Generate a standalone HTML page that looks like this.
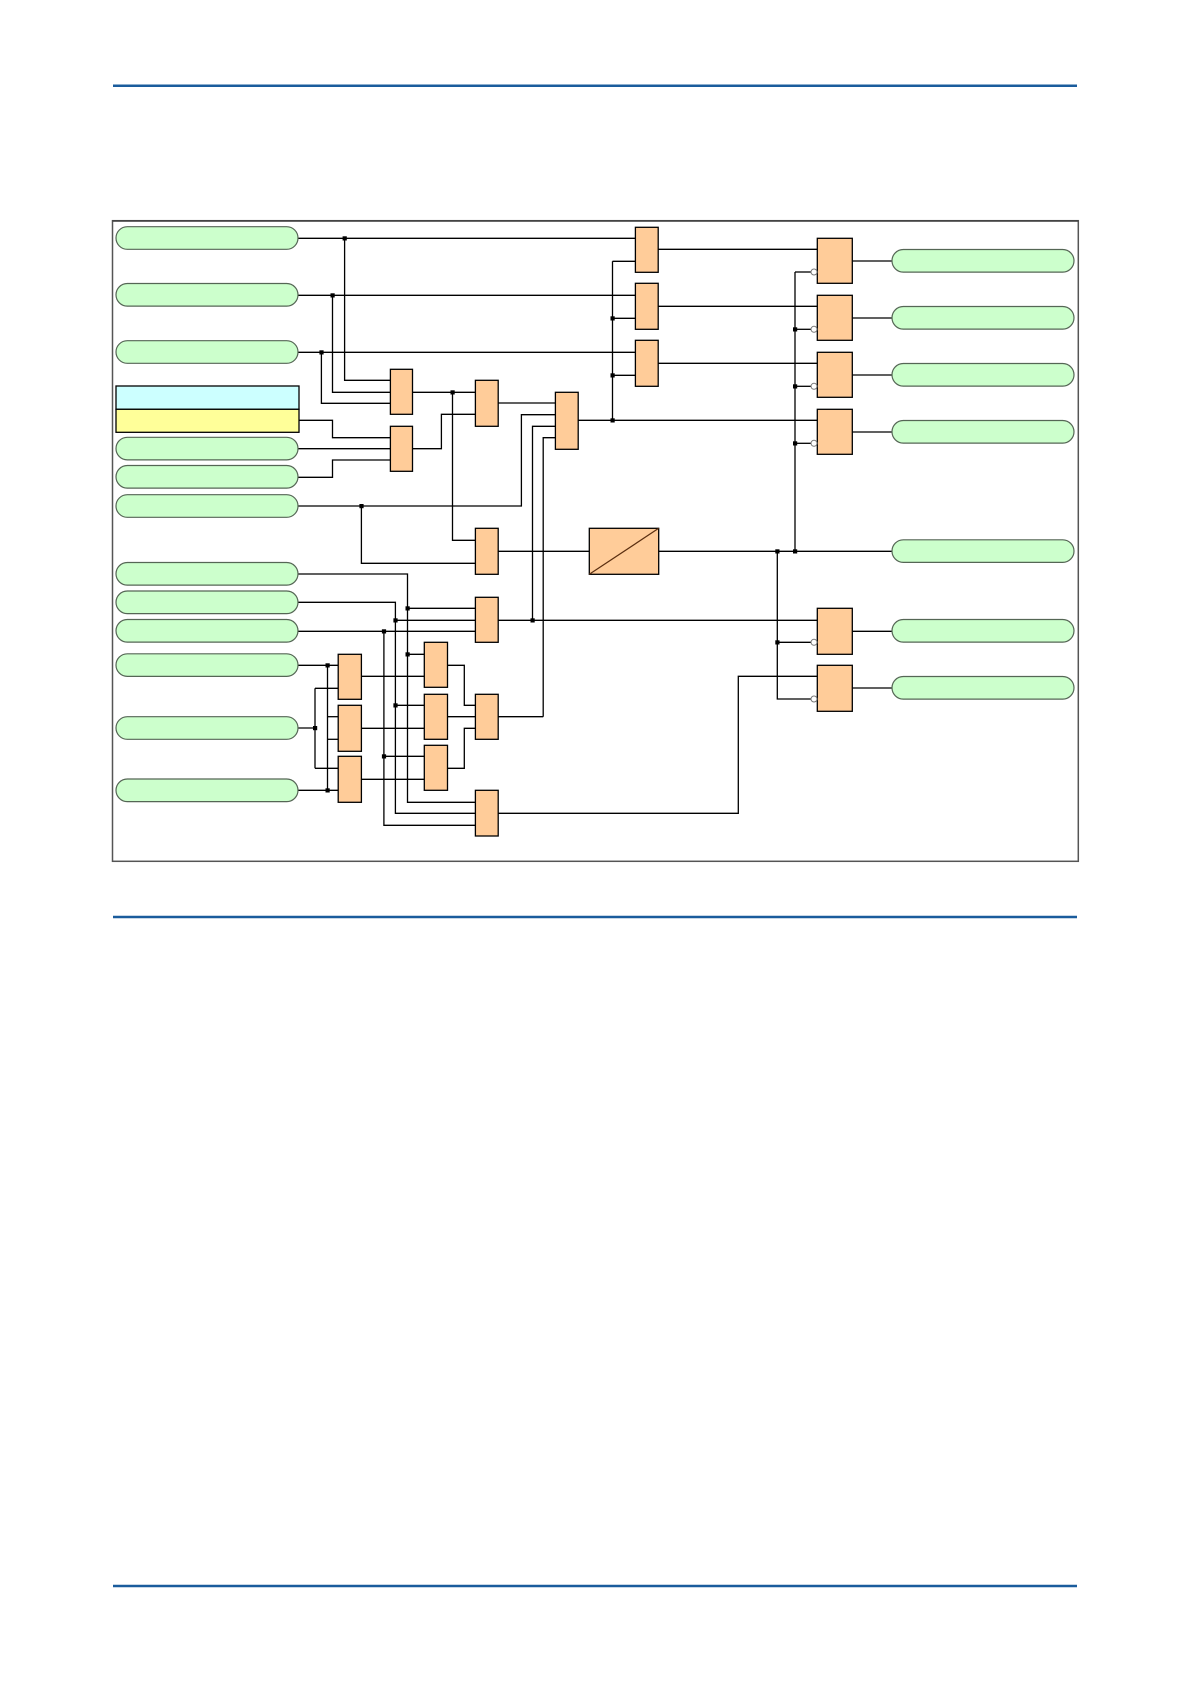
<!DOCTYPE html>
<html><head><meta charset="utf-8"><style>
html,body{margin:0;padding:0;background:#fff;}
svg{display:block;}
</style></head><body>
<svg width="1191" height="1684" viewBox="0 0 1191 1684" xmlns="http://www.w3.org/2000/svg">
<rect width="1191" height="1684" fill="#fff"/>
<g stroke="#1a5c9c" stroke-width="2.5">
<line x1="113" y1="85.7" x2="1077" y2="85.7"/>
<line x1="113" y1="917" x2="1077" y2="917"/>
<line x1="113" y1="1586" x2="1077" y2="1586"/>
</g>
<rect x="112.5" y="220.7" width="965.8" height="640.6" fill="none" stroke="#555" stroke-width="1.5"/>
<rect x="112.5" y="220" width="965.8" height="1.8" fill="#444"/>

<!-- wires -->
<g fill="none" stroke="#000" stroke-width="1.3">
<!-- top inputs -->
<path d="M298 238.3H635.4"/>
<path d="M298 295.3H635.4"/>
<path d="M298 352.3H635.4"/>
<path d="M344.6 238.3V380.3H390.4"/>
<path d="M332.5 295.3V392.3H390.4"/>
<path d="M321.4 352.3V403.3H390.4"/>
<path d="M299 420.3H332.5V437.7H390.4"/>
<path d="M298 448.7H390.4"/>
<path d="M298 477.3H332.5V460H390.4"/>
<path d="M412.5 392.3H475.4"/>
<path d="M452.5 392.3V540.3H475.4"/>
<path d="M412.5 448.7H441.4V414.3H475.4"/>
<path d="M498.2 403H555.4"/>
<path d="M298 506H521.4V414.7H555.4"/>
<path d="M361.4 506V563.3H475.4"/>
<path d="M532.5 620.3V426.3H555.4"/>
<path d="M543.2 716.7V437.7H555.4"/>
<path d="M578.2 420.3H817.3"/>
<path d="M612.5 261.3H635.4"/>
<path d="M612.5 261.3V420.3"/>
<path d="M612.5 318.3H635.4"/>
<path d="M612.5 375.3H635.4"/>
<path d="M658.2 249.3H817.3"/>
<path d="M658.2 306.3H817.3"/>
<path d="M658.2 363.3H817.3"/>
<path d="M795 272H811"/>
<path d="M795 272V551.3"/>
<path d="M795 329.3H811"/>
<path d="M795 386.3H811"/>
<path d="M795 443.3H811"/>
<path d="M852.3 261H892"/>
<path d="M852.3 318H892"/>
<path d="M852.3 375H892"/>
<path d="M852.3 432H892"/>
<path d="M498.2 551.3H589.3"/>
<path d="M658.7 551.3H892"/>
<path d="M777.3 551.3V699H811"/>
<path d="M777.3 642.3H811"/>
<path d="M498.2 620.3H817.3"/>
<path d="M852.3 631.3H892"/>
<path d="M852.3 688H892"/>
<path d="M498.2 813.3H738.3V676.3H817.3"/>
<!-- lower inputs -->
<path d="M298 574H407.5V802.3H475.4"/>
<path d="M298 602.3H395.4V813.3H475.4"/>
<path d="M298 631.3H475.4"/>
<path d="M383.9 631.3V825.3H475.4"/>
<path d="M407.5 608.3H475.4"/>
<path d="M395.4 620.3H475.4"/>
<path d="M298 665.3H338.2"/>
<path d="M298 728H315"/>
<path d="M298 790.3H338.2"/>
<path d="M327.5 665.3V790.3"/>
<path d="M327.5 716.7H338.2"/>
<path d="M327.5 739.3H338.2"/>
<path d="M315 688.3V768.3"/>
<path d="M315 688.3H338.2"/>
<path d="M315 768.3H338.2"/>
<path d="M361.4 676.3H424.3"/>
<path d="M361.4 728.3H424.3"/>
<path d="M361.4 779.3H424.3"/>
<path d="M407.5 654.3H424.3"/>
<path d="M395.4 705.3H424.3"/>
<path d="M383.9 756.3H424.3"/>
<path d="M447.5 665.3H464.3V705.3H475.4"/>
<path d="M447.5 716.7H475.4"/>
<path d="M447.5 768.3H464.3V728.3H475.4"/>
<path d="M498.2 716.7H543.2"/>
</g>

<!-- pills -->
<g fill="#ccffcc" stroke="#556655" stroke-width="1.2">
<rect x="116" y="226.7" width="182" height="22.6" rx="11.3"/>
<rect x="116" y="283.5" width="182" height="22.6" rx="11.3"/>
<rect x="116" y="340.7" width="182" height="22.6" rx="11.3"/>
<rect x="116" y="437.3" width="182" height="22.6" rx="11.3"/>
<rect x="116" y="465.5" width="182" height="22.6" rx="11.3"/>
<rect x="116" y="494.7" width="182" height="22.6" rx="11.3"/>
<rect x="116" y="562.5" width="182" height="22.6" rx="11.3"/>
<rect x="116" y="591" width="182" height="22.6" rx="11.3"/>
<rect x="116" y="619.5" width="182" height="22.6" rx="11.3"/>
<rect x="116" y="653.8" width="182" height="22.6" rx="11.3"/>
<rect x="116" y="716.7" width="182" height="22.6" rx="11.3"/>
<rect x="116" y="779" width="182" height="22.6" rx="11.3"/>
<rect x="892" y="249.5" width="182" height="22.6" rx="11.3"/>
<rect x="892" y="306.5" width="182" height="22.6" rx="11.3"/>
<rect x="892" y="363.5" width="182" height="22.6" rx="11.3"/>
<rect x="892" y="420.5" width="182" height="22.6" rx="11.3"/>
<rect x="892" y="539.8" width="182" height="22.6" rx="11.3"/>
<rect x="892" y="619.5" width="182" height="22.6" rx="11.3"/>
<rect x="892" y="676.5" width="182" height="22.6" rx="11.3"/>
</g>
<rect x="116" y="386" width="183" height="23.3" fill="#ccffff" stroke="#000" stroke-width="1.3"/>
<rect x="116" y="409.3" width="183" height="23" fill="#ffff99" stroke="#000" stroke-width="1.3"/>

<!-- gates -->
<g fill="#ffcc99" stroke="#000" stroke-width="1.3">
<rect x="390.4" y="369.3" width="22.1" height="45"/>
<rect x="390.4" y="426.3" width="22.1" height="45"/>
<rect x="475.4" y="380.3" width="22.8" height="46"/>
<rect x="555.4" y="392.3" width="22.8" height="57"/>
<rect x="635.4" y="227.3" width="22.8" height="45"/>
<rect x="635.4" y="283.3" width="22.8" height="46"/>
<rect x="635.4" y="340.3" width="22.8" height="46"/>
<rect x="817.3" y="238.3" width="35" height="45"/>
<rect x="817.3" y="295.3" width="35" height="45"/>
<rect x="817.3" y="352.3" width="35" height="45"/>
<rect x="817.3" y="409.3" width="35" height="45"/>
<rect x="817.3" y="608.3" width="35" height="46"/>
<rect x="817.3" y="665.3" width="35" height="46"/>
<rect x="475.4" y="528.3" width="22.8" height="46"/>
<rect x="589.3" y="528.3" width="69.4" height="46"/>
<rect x="475.4" y="597.3" width="22.8" height="45"/>
<rect x="338.2" y="654.3" width="23.2" height="45"/>
<rect x="338.2" y="705.3" width="23.2" height="46"/>
<rect x="338.2" y="756.3" width="23.2" height="46"/>
<rect x="424.3" y="642.3" width="23.2" height="45"/>
<rect x="424.3" y="694.3" width="23.2" height="45"/>
<rect x="424.3" y="745.3" width="23.2" height="45"/>
<rect x="475.4" y="694.3" width="22.8" height="45"/>
<rect x="475.4" y="790.3" width="22.8" height="45.7"/>
</g>
<line x1="589.3" y1="574.3" x2="658.7" y2="528.3" stroke="#5a2e10" stroke-width="1.2"/>

<!-- inversion bubbles -->
<g fill="#fff" stroke="#777" stroke-width="1">
<circle cx="814" cy="272" r="3"/>
<circle cx="814" cy="329.3" r="3"/>
<circle cx="814" cy="386.3" r="3"/>
<circle cx="814" cy="443.3" r="3"/>
<circle cx="814" cy="642.3" r="3"/>
<circle cx="814" cy="699" r="3"/>
</g>

<!-- junctions -->
<g fill="#000">
<rect x="342.6" y="236.3" width="4.2" height="4.2"/>
<rect x="330.5" y="293.3" width="4.2" height="4.2"/>
<rect x="319.4" y="350.3" width="4.2" height="4.2"/>
<rect x="450.5" y="390.3" width="4.2" height="4.2"/>
<rect x="359.4" y="504" width="4.2" height="4.2"/>
<rect x="610.5" y="316.3" width="4.2" height="4.2"/>
<rect x="610.5" y="373.3" width="4.2" height="4.2"/>
<rect x="610.5" y="418.3" width="4.2" height="4.2"/>
<rect x="793" y="327.3" width="4.2" height="4.2"/>
<rect x="793" y="384.3" width="4.2" height="4.2"/>
<rect x="793" y="441.3" width="4.2" height="4.2"/>
<rect x="793" y="549.3" width="4.2" height="4.2"/>
<rect x="775.3" y="549.3" width="4.2" height="4.2"/>
<rect x="775.3" y="640.3" width="4.2" height="4.2"/>
<rect x="530.5" y="618.3" width="4.2" height="4.2"/>
<rect x="405.5" y="606.3" width="4.2" height="4.2"/>
<rect x="393.4" y="618.3" width="4.2" height="4.2"/>
<rect x="381.9" y="629.3" width="4.2" height="4.2"/>
<rect x="405.5" y="652.3" width="4.2" height="4.2"/>
<rect x="393.4" y="703.3" width="4.2" height="4.2"/>
<rect x="381.9" y="754.3" width="4.2" height="4.2"/>
<rect x="325.5" y="663.3" width="4.2" height="4.2"/>
<rect x="313" y="726" width="4.2" height="4.2"/>
<rect x="325.5" y="788.3" width="4.2" height="4.2"/>
</g>
</svg>
</body></html>
